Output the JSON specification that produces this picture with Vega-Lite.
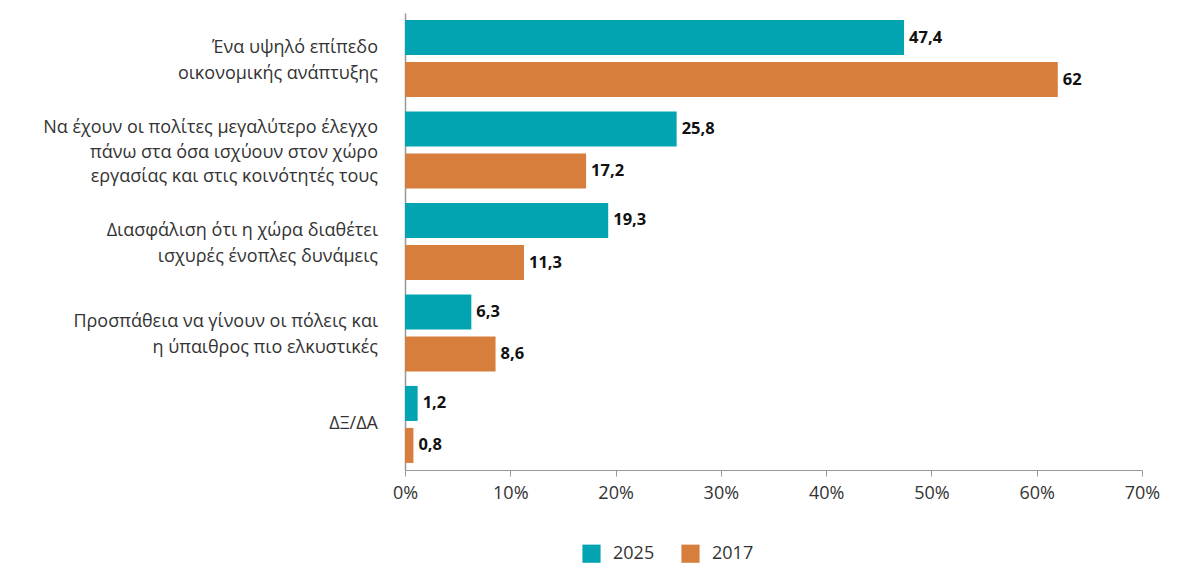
{
  "$schema": "https://vega.github.io/schema/vega-lite/v6.json",
  "width": 737,
  "height": 457,
  "autosize": {"type": "none"},
  "padding": {"left": 405, "top": 13, "right": 50, "bottom": 98},
  "background": "white",
  "data": {
    "values": [
      {"category": "Ένα υψηλό επίπεδο|οικονομικής ανάπτυξης", "year": "2025", "value": 47.4},
      {"category": "Ένα υψηλό επίπεδο|οικονομικής ανάπτυξης", "year": "2017", "value": 62},
      {"category": "Να έχουν οι πολίτες μεγαλύτερο έλεγχο|πάνω στα όσα ισχύουν στον χώρο|εργασίας και στις κοινότητές τους", "year": "2025", "value": 25.8},
      {"category": "Να έχουν οι πολίτες μεγαλύτερο έλεγχο|πάνω στα όσα ισχύουν στον χώρο|εργασίας και στις κοινότητές τους", "year": "2017", "value": 17.2},
      {"category": "Διασφάλιση ότι η χώρα διαθέτει|ισχυρές ένοπλες δυνάμεις", "year": "2025", "value": 19.3},
      {"category": "Διασφάλιση ότι η χώρα διαθέτει|ισχυρές ένοπλες δυνάμεις", "year": "2017", "value": 11.3},
      {"category": "Προσπάθεια να γίνουν οι πόλεις και|η ύπαιθρος πιο ελκυστικές", "year": "2025", "value": 6.3},
      {"category": "Προσπάθεια να γίνουν οι πόλεις και|η ύπαιθρος πιο ελκυστικές", "year": "2017", "value": 8.6},
      {"category": "ΔΞ/ΔΑ", "year": "2025", "value": 1.2},
      {"category": "ΔΞ/ΔΑ", "year": "2017", "value": 0.8}
    ]
  },
  "encoding": {
    "y": {
      "field": "category",
      "type": "nominal",
      "sort": null,
      "scale": {"paddingInner": 0.158, "paddingOuter": 0.077},
      "axis": {
        "title": null,
        "ticks": false,
        "labels": false,
        "domain": true,
        "domainColor": "#999999",
        "domainWidth": 1.5
      }
    },
    "x": {
      "field": "value",
      "type": "quantitative",
      "scale": {"domain": [0, 70], "nice": false},
      "axis": {
        "title": null,
        "grid": false,
        "values": [0, 10, 20, 30, 40, 50, 60, 70],
        "labelExpr": "datum.value + '%'",
        "labelFlush": false,
        "domainColor": "#999999",
        "tickColor": "#999999",
        "tickSize": 6,
        "labelFont": "Open Sans",
        "labelFontSize": 18,
        "labelColor": "#333333",
        "labelPadding": 8
      }
    }
  },
  "layer": [
    {
      "mark": {"type": "bar"},
      "encoding": {
        "yOffset": {
          "field": "year",
          "type": "nominal",
          "sort": ["2025", "2017"],
          "scale": {"paddingInner": 0.1667, "paddingOuter": 0}
        },
        "color": {
          "field": "year",
          "type": "nominal",
          "scale": {"domain": ["2025", "2017"], "range": ["#02A4B1", "#D77E3C"]},
          "legend": {
            "title": null,
            "orient": "none",
            "legendX": 177,
            "legendY": 531,
            "direction": "horizontal",
            "symbolType": "square",
            "symbolSize": 330,
            "symbolStrokeWidth": 0,
            "labelFont": "Open Sans",
            "labelFontSize": 18,
            "labelColor": "#333333",
            "columnPadding": 26,
            "labelOffset": 12
          }
        }
      }
    },
    {
      "mark": {"type": "text", "align": "left", "baseline": "middle", "dx": 5, "font": "Open Sans", "fontSize": 16.5, "fontWeight": "bold", "color": "#111111"},
      "encoding": {
        "yOffset": {
          "field": "year",
          "type": "nominal",
          "sort": ["2025", "2017"],
          "scale": {"paddingInner": 0.1667, "paddingOuter": 0}
        },
        "text": {"field": "value", "type": "quantitative", "format": ".3~r"}
      }
    },
    {
      "transform": [{"filter": "datum.year == '2025' && length(split(datum.category, '|')) == 1"}],
      "mark": {"type": "text", "align": "right", "baseline": "middle", "dx": -27, "dy": 0, "lineBreak": "|", "lineHeight": 25, "font": "Open Sans", "fontSize": 18, "color": "#333333"},
      "encoding": {
        "x": {"datum": 0},
        "text": {"field": "category", "type": "nominal"}
      }
    },
    {
      "transform": [{"filter": "datum.year == '2025' && length(split(datum.category, '|')) == 2"}],
      "mark": {"type": "text", "align": "right", "baseline": "middle", "dx": -27, "dy": -11, "lineBreak": "|", "lineHeight": 26, "font": "Open Sans", "fontSize": 18, "color": "#333333"},
      "encoding": {
        "x": {"datum": 0},
        "text": {"field": "category", "type": "nominal"}
      }
    },
    {
      "transform": [{"filter": "datum.year == '2025' && length(split(datum.category, '|')) == 3"}],
      "mark": {"type": "text", "align": "right", "baseline": "middle", "dx": -27, "dy": -22, "lineBreak": "|", "lineHeight": 24.5, "font": "Open Sans", "fontSize": 18, "color": "#333333"},
      "encoding": {
        "x": {"datum": 0},
        "text": {"field": "category", "type": "nominal"}
      }
    }
  ],
  "config": {
    "view": {"stroke": null},
    "locale": {"number": {"decimal": ",", "thousands": ".", "grouping": [3], "currency": ["", "€"]}}
  }
}
